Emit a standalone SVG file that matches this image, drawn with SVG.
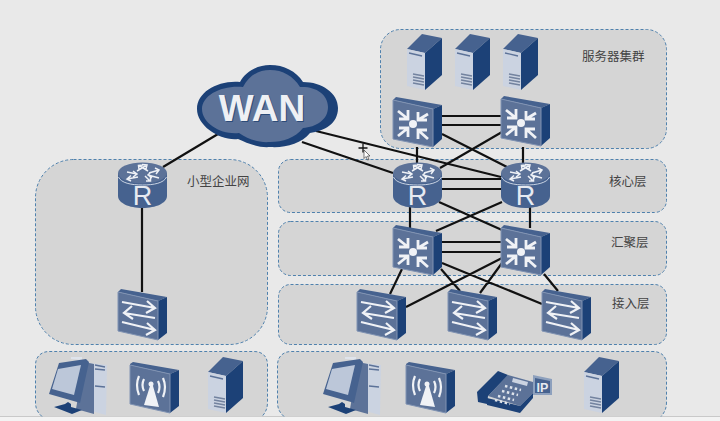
<svg xmlns="http://www.w3.org/2000/svg" width="720" height="421" viewBox="0 0 720 421">
<style>
.panel{fill:#d5d5d5;stroke:#4f81ad;stroke-width:1;stroke-dasharray:3 2}
.link{stroke:#111;stroke-width:2.2;fill:none}
.label{font-family:"Liberation Sans","Noto Sans CJK SC",sans-serif;font-size:12.5px;fill:#444}
.dk{fill:#1c4177}.md{fill:#46628f}.lt{fill:#5c7298}.pale{fill:#cbd3e1}
.wa{fill:none;stroke:#f0f2f6;stroke-width:2.8}
.wb{fill:none;stroke:#f0f2f6;stroke-width:2.2}
.wc{fill:none;stroke:#eef1f6;stroke-width:1.5}
.wf{fill:#f0f2f6}
.edge{stroke:#8093b3;stroke-width:1}
</style>
<defs>
<g id="core">
<polygon class="md" points="3,0 49,8 40,12 0,3"/>
<polygon class="dk" points="49,8 49,42 40,50 40,12"/>
<polygon class="lt edge" points="0,3 40,12 40,50 0,42"/>
<circle class="wf" cx="20" cy="27" r="4"/>
<path class="wa" d="M5 14L15 22M15 13V22H6M35 17L25 23M25 15V23H34M5 39L15 31M6 31H15V40M35 42L25 33M34 33H25V42"/>
</g>
<g id="sw">
<polygon class="md" points="3,0 49,8 40,12 0,3"/>
<polygon class="dk" points="49,8 49,44 40,51 40,12"/>
<polygon class="lt edge" points="0,3 40,12 40,51 0,42"/>
<path class="wb" d="M4 13L37 19M29 12L37 19L28 24M37 29L6 24M14 17L6 24L15 30M4 33L37 41M29 34L37 41L28 46"/>
</g>
<g id="srv">
<polygon class="md" points="0,15 15,0 35,4 18,19"/>
<polygon class="dk" points="18,19 35,4 35,41 18,56"/>
<polygon class="pale" points="0,15 18,19 18,56 0,52"/>
<path d="M2 19L15 22" stroke="#5c7298" stroke-width="1.3"/>
<path d="M6 40L17 42M6 43L17 45M6 46L17 48M6 49L17 51" stroke="#73839f" stroke-width="1.6"/>
</g>
<g id="router">
<path class="md" d="M0 10V33C0 40 11 45 24.500 45S49 40 49 33V10z"/>
<ellipse class="lt" cx="24.500" cy="10" rx="24.500" ry="10.500"/>
<path d="M0.500 14C3 20 13 22 24.500 22S46 20 48.500 14" stroke="#c8d2e2" stroke-width="1" fill="none"/>
<path class="wc" d="M19 8L29 2M24 1.500L29 2L28 6M30 8L21 2.500M21 6.500L20.500 2.500L25 2M20 14L9 16M13 12.500L9 16L13 18M9 9L19 11M15 8L19 11L15 14M31 10L41 7M37 5L41 7L38 11M41 15L30 12M33 9L30 12L34 15M27 13L32 18M28 18H32.500V14"/>
<text x="24.500" y="42" text-anchor="middle" font-family="Liberation Sans,sans-serif" font-size="27" fill="#e6eaf1">R</text>
</g>
<g id="ap">
<polygon class="md" points="0,2 3,0 49,8 40,12 0,3"/>
<polygon class="dk" points="49,8 49,44 40,51 40,12"/>
<polygon class="lt edge" points="0,3 40,12 40,51 0,42"/>
<polygon class="wf" points="20,24 23,24 29,45 14,43"/>
<circle class="wf" cx="21" cy="22" r="2.500"/>
<path class="wb" d="M14 17Q11 23 14 29M28 19Q31 25 28 31M9 14Q5 23 9 33M33 16Q37 25 33 35"/>
</g>
<g id="pc">
<polygon class="pale" points="41,6 59,8 58,58 36,52"/>
<polygon class="lt" points="36,5 46,7 46,57 28,52"/>
<polygon fill="#dfe4ec" points="23,0 34,0 34,3 23,2"/>
<polygon class="md" points="11,6 38,2 41,5 32,46 29,45 1,37"/>
<polygon fill="#bcc7d9" points="10,12 33,8 26,38 4,32"/>
<polygon class="dk" points="20,45 23,47 23,50 34,53 24,57 6,50 17,47"/>
<path d="M47 8L57 10M47 12L57 13M47 29L57 30" stroke="#5c7298" stroke-width="1.300"/>
</g>
<g id="phone">
<polygon fill="#8da0bd" points="57,4 76,8 76,24 57,24"/>
<polygon class="md" points="59,7 74,10 74,22 59,22"/>
<text x="66.500" y="21" text-anchor="middle" font-family="Liberation Sans,sans-serif" font-weight="700" font-size="12.500" fill="#e6eaf1">IP</text>
<polygon class="lt" points="12,25 32,4 57,11 57,22 44,35"/>
<polygon class="dk" points="1,21 22,0 32,4 12,25 11,33 2,31"/>
<polygon class="dk" points="11,27 44,35 44,42 11,34"/>
<polygon class="dk" points="44,35 57,22 57,27 44,42"/>
<polygon class="pale" points="37,7 52,11 51,15 36,11"/>
<path d="M29 15L45 19M26 20L42 24M22 25L38 29M19 29L34 33" stroke="#dfe4ec" stroke-width="2.500" stroke-dasharray="2.500 2.500"/>
</g>
</defs>
<rect width="720" height="421" fill="#e9e9e9"/>
<rect y="417" width="720" height="4" fill="#f3f3f3"/>
<path d="M0 416.500H720" stroke="#c9c9c9" stroke-width="1"/>
<g id="panels">
<rect id="panel-servers" class="panel" x="380.500" y="29.500" width="286" height="119" rx="20"/>
<rect id="panel-core" class="panel" x="278.500" y="159.500" width="388" height="53" rx="12"/>
<rect id="panel-agg" class="panel" x="278.500" y="221.500" width="388" height="54" rx="12"/>
<rect id="panel-access" class="panel" x="278.500" y="284.500" width="388" height="60" rx="12"/>
<rect id="panel-small" class="panel" x="35.500" y="159.500" width="232" height="185" rx="38"/>
<path class="panel" d="M42 416.500C37 412 35.500 408 35.500 402V365C35.500 356 42 351.500 49 351.500H254C262 351.500 267.500 356 267.500 365V402C267.500 408 266 412 262 416.500"/>
<path class="panel" d="M284 416.500C279 412 277.500 408 277.500 402V365C277.500 356 284 351.500 291 351.500H653C661 351.500 666.500 356 666.500 365V402C666.500 408 665 412 661 416.500"/>
</g>
<g id="connectors">
<path class="link" d="M218 134L163 167M142 207V292M302 142L393 173M316 131L501 177M442 116H501M442 125H501M442 134L507 167M502 132L440 168M417 147V165M523 147V165M442 179H501M442 189H501M410 207V228M530 207V228M439 202L502 230M502 202L436 231M442 242H501M442 252H501M402 269L390 294M441 269L460 291M442 263L542 304M502 258L406 307M502 263L480 293M544 274L558 291"/>
</g>
<g id="wan">
<path class="dk" d="M197 109C197 92 218 80 240 82C246 71 258 65 270 65C284 65 296 71 303 82C322 82 338 93 338 108C338 124 324 131 310 133C301 144 285 148 270 147C258 148 247 143 238 139C220 141 197 126 197 109z"/>
<path class="lt" d="M202 109C202 95 222 85 243 87C249 75 259 70 270 70C283 70 293 76 300 87C315 86 328 94 328 107C328 120 316 127 303 128C295 138 283 142 270 142C258 143 248 139 239 133C222 135 202 124 202 109z"/>
<text x="263" y="122" text-anchor="middle" font-family="Liberation Sans,sans-serif" font-weight="700" font-size="37" fill="#2c4b78">WAN</text>
<text x="262" y="121" text-anchor="middle" font-family="Liberation Sans,sans-serif" font-weight="700" font-size="37" fill="#eef0f4">WAN</text>
</g>
<g id="server-1"><use href="#srv" x="407" y="34"/></g>
<g id="server-2"><use href="#srv" x="455" y="34"/></g>
<g id="server-3"><use href="#srv" x="503" y="34"/></g>
<g id="dc-switch-1"><use href="#core" x="393" y="97"/></g>
<g id="dc-switch-2"><use href="#core" x="501" y="96"/></g>
<g id="core-router-1"><use href="#router" x="393" y="163"/></g>
<g id="core-router-2"><use href="#router" x="501" y="163"/></g>
<g id="agg-switch-1"><use href="#core" x="393" y="225"/></g>
<g id="agg-switch-2"><use href="#core" x="501" y="225"/></g>
<g id="access-switch-1"><use href="#sw" x="357" y="289"/></g>
<g id="access-switch-2"><use href="#sw" x="448" y="289"/></g>
<g id="access-switch-3"><use href="#sw" x="542" y="289"/></g>
<g id="small-router"><use href="#router" x="118" y="163"/></g>
<g id="small-switch"><use href="#sw" x="118" y="289"/></g>
<g id="pc-left"><use href="#pc" x="48" y="357"/></g>
<g id="ap-left"><use href="#ap" x="130" y="362"/></g>
<g id="server-left"><use href="#srv" x="208" y="357"/></g>
<g id="pc-right"><use href="#pc" x="322" y="357"/></g>
<g id="ap-right"><use href="#ap" x="406" y="362"/></g>
<g id="phone-right"><use href="#phone" x="476" y="371"/></g>
<g id="server-right"><use href="#srv" x="584" y="357"/></g>
<g id="labels">
<text class="label" x="582" y="61">服务器集群</text>
<text class="label" x="609" y="186">核心层</text>
<text class="label" x="611" y="247">汇聚层</text>
<text class="label" x="612" y="308">接入层</text>
<text class="label" x="187" y="186">小型企业网</text>
</g>
<g id="cursor">
<path d="M358.500 148H367.500M363 143.500V152.500" stroke="#111" stroke-width="1.300"/>
<path d="M364 150V158.500L366 156.500L367.500 160L369 159.500L367.500 156H370z" fill="#fff" stroke="#222" stroke-width="0.600"/>
</g>
</svg>
